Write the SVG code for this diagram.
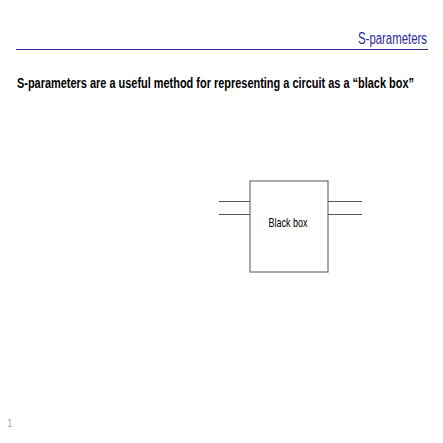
<svg xmlns="http://www.w3.org/2000/svg" width="443" height="443" viewBox="0 0 443 443">
<style>
text{font-family:"Liberation Sans",Arial,sans-serif}
.ln{stroke:#555;stroke-width:1;fill:none}
</style>
<rect width="443" height="443" fill="#fff"/>
<g id="title">
<text x="427" y="44" font-size="16" fill="#2a2a9a" text-anchor="end" textLength="69" lengthAdjust="spacingAndGlyphs">S-parameters</text>
<line x1="16" y1="49.5" x2="428" y2="49.5" stroke="#2a2a9a" stroke-width="1"/>
</g>
<g id="heading">
<text x="17" y="88" font-size="14.5" font-weight="bold" fill="#000" textLength="397" lengthAdjust="spacingAndGlyphs">S-parameters are a useful method for representing a circuit as a “black box”</text>
</g>
<g id="blackbox">
<rect x="250" y="181" width="78" height="91" class="ln"/>
<text x="288" y="227" font-size="13" fill="#000" text-anchor="middle" textLength="39" lengthAdjust="spacingAndGlyphs">Black box</text>
</g>
<g id="connectors">
<line x1="219" y1="201.5" x2="250" y2="201.5" class="ln"/>
<line x1="219" y1="214.5" x2="250" y2="214.5" class="ln"/>
<line x1="328" y1="201.5" x2="362" y2="201.5" class="ln"/>
<line x1="328" y1="214.5" x2="362" y2="214.5" class="ln"/>
</g>
<g id="pagenum">
<text x="7" y="427" font-size="10" fill="#aaa">1</text>
</g>
</svg>
